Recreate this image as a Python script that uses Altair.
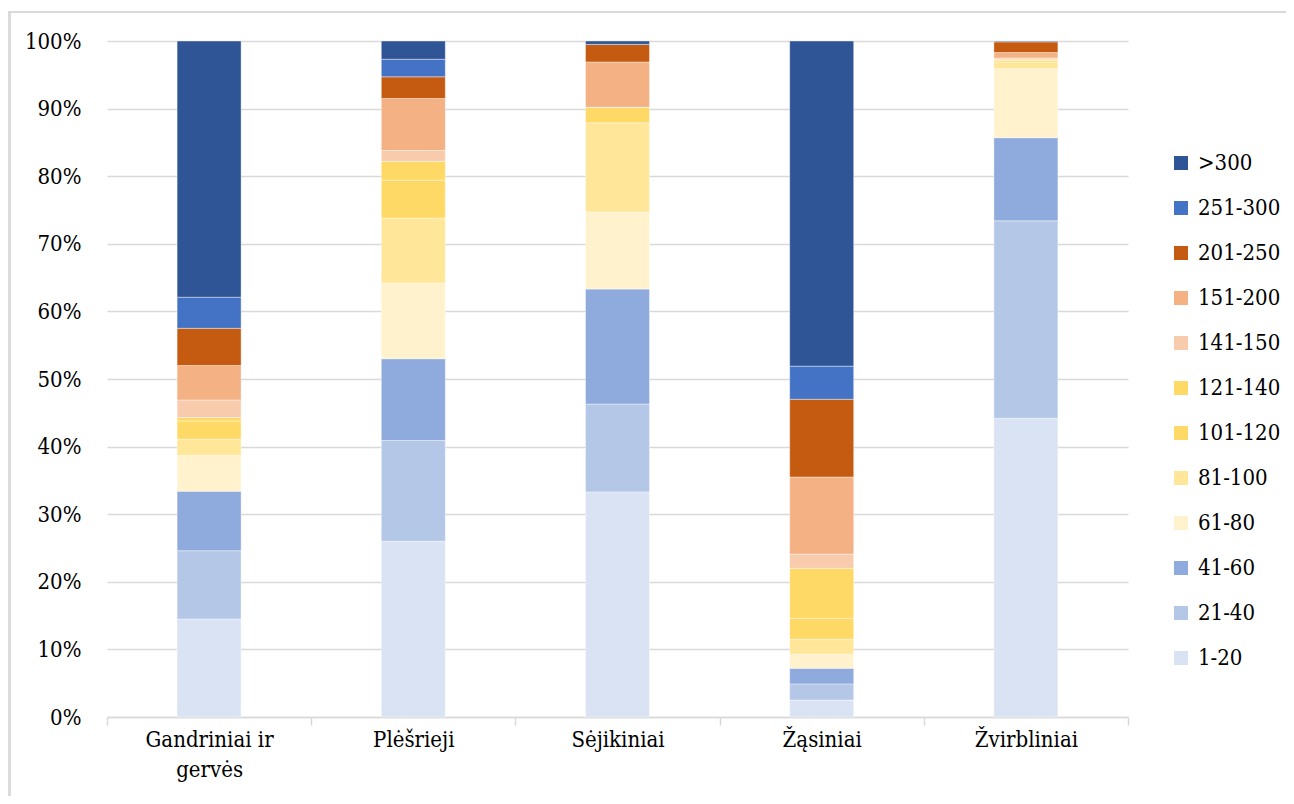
import altair as alt
import pandas as pd

categories = ["Gandriniai ir gervės", "Plėšrieji", "Sėjikiniai", "Žąsiniai", "Žvirbliniai"]
series = ["1-20", "21-40", "41-60", "61-80", "81-100", "101-120", "121-140",
          "141-150", "151-200", "201-250", "251-300", ">300"]
colors = ["#DAE3F3", "#B4C7E7", "#8FAADC", "#FFF2CC", "#FFE699", "#FFD966", "#FFD966",
          "#F8CBAD", "#F4B183", "#C55A11", "#4472C4", "#2F5597"]

gandriniai = [14.5, 10.1, 8.8, 5.3, 2.4, 2.7, 0.5, 2.6, 5.1, 5.5, 4.6, 37.9]
plesrieji = [26.0, 14.9, 12.1, 11.2, 9.6, 5.6, 2.8, 1.6, 7.7, 3.2, 2.6, 2.7]
sejikiniai = [33.3, 13.0, 17.0, 11.4, 13.2, 2.3, 0.0, 0.0, 6.7, 2.6, 0.0, 0.5]
zasiniai = [2.5, 2.4, 2.3, 2.1, 2.2, 3.1, 7.4, 2.1, 11.4, 11.5, 4.9, 48.1]
zvirbliniai = [44.2, 29.2, 12.3, 10.2, 1.0, 0.2, 0.2, 0.2, 0.8, 1.6, 0.0, 0.1]

y_ticks = [0, 0.1, 0.2, 0.3, 0.4, 0.5, 0.6, 0.7, 0.8, 0.9, 1.0]

rows = []
for cat, vals in zip(categories, [gandriniai, plesrieji, sejikiniai, zasiniai, zvirbliniai]):
    for i, (s, v) in enumerate(zip(series, vals)):
        rows.append({"cat": cat, "series": s, "idx": i, "value": v})
df = pd.DataFrame(rows)

FONT = "'DejaVu Serif Condensed', 'DejaVu Serif'"
GRID = "#D9D9D9"

legend_domain = list(reversed(series))
legend_range = list(reversed(colors))

bars = alt.Chart(df).mark_bar(size=64, stroke="white", strokeWidth=0.4).encode(
    x=alt.X("cat:N", sort=categories, title=None,
            scale=alt.Scale(paddingInner=0, paddingOuter=0),
            axis=alt.Axis(labelAngle=0, labelFont=FONT, labelFontSize=22, labelColor="black",
                          labelPadding=4, labelLineHeight=30,
                          labelExpr="datum.label == 'Gandriniai ir gervės' ? ['Gandriniai ir', 'gervės'] : datum.label",
                          domainColor=GRID, domainWidth=1.5, tickColor=GRID, tickWidth=1.5,
                          tickSize=8, tickBand="extent", grid=False)),
    y=alt.Y("value:Q", stack="normalize", title=None,
            scale=alt.Scale(domain=[0, 1], nice=False),
            axis=alt.Axis(values=y_ticks, format=".0%", labelFont=FONT, labelFontSize=22,
                          labelColor="black", labelPadding=26, ticks=False, domain=False,
                          grid=True, gridColor=GRID, gridWidth=1.5)),
    color=alt.Color("series:N", sort=legend_domain,
                    scale=alt.Scale(domain=legend_domain, range=legend_range),
                    legend=alt.Legend(title=None, orient="none", legendX=1063, legendY=111,
                                      symbolType="square", symbolSize=196, symbolStrokeWidth=0,
                                      labelFont=FONT, labelFontSize=22, labelColor="black",
                                      labelOffset=6, rowPadding=23, labelLimit=200)),
    order=alt.Order("idx:Q", sort="ascending"),
)

frame_top = alt.Chart(df).mark_rule(color=GRID, strokeWidth=1.5).encode(
    x=alt.value(-99), x2=alt.value(1200), y=alt.value(-29))
frame_left = alt.Chart(df).mark_rule(color=GRID, strokeWidth=1.5).encode(
    x=alt.value(-97.5), y=alt.value(-29), y2=alt.value(800))

chart = alt.layer(frame_top, frame_left, bars).properties(
    width=1021, height=676,
    autosize=alt.AutoSizeParams(type="none"),
    padding={"left": 99, "top": 33, "right": 158, "bottom": 79},
).configure(background="white", font=FONT).configure_view(stroke=None)

chart.save("out.html", embed_options={"renderer": "svg", "actions": False})
